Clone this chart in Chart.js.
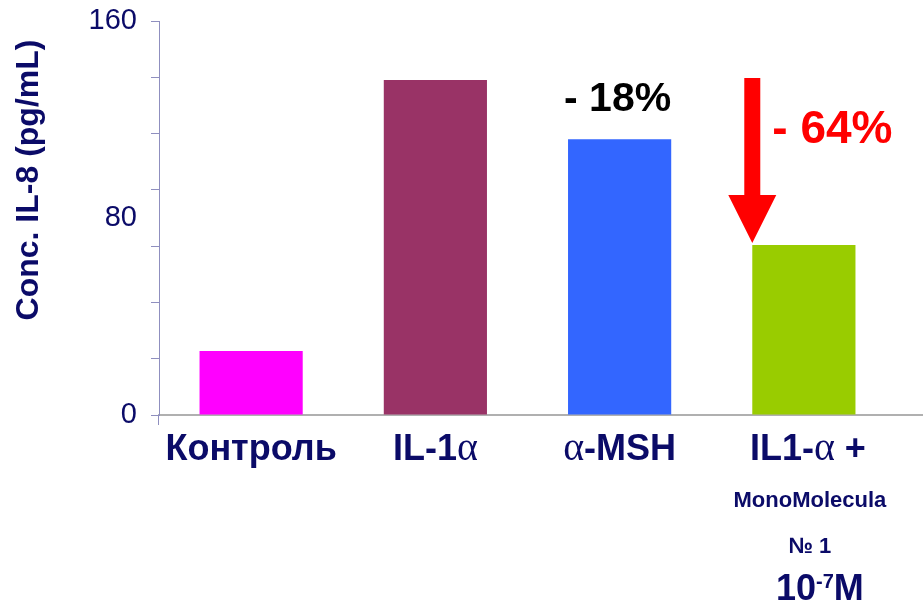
<!DOCTYPE html>
<html>
<head>
<meta charset="utf-8">
<script src="https://cdn.jsdelivr.net/npm/chart.js@4.4.1/dist/chart.umd.min.js"></script>
<style>
  html, body { margin: 0; padding: 0; background: #ffffff; }
  #wrap { width: 923px; height: 602px; position: relative; }
</style>
</head>
<body>
<div id="wrap"><canvas id="chart"></canvas></div>
<script>
// IL-8 concentration per treatment group
const categories = ['Контроль', 'IL-1α', 'α-MSH', ['IL1-α +', 'MonoMolecula', '№ 1', '10⁻⁷M']];
const il8Values = [26, 136, 112, 69];
const barColors = ['#ff00ff', '#993366', '#3366ff', '#99cc00'];
const changeLabels = ['', '', '- 18%', '- 64%'];
const yTickLabels = [0, 80, 160];
const yTitle = 'Conc. IL-8 (pg/mL)';
const yMax = 160;
const tickMarkCount = 7; // small tick marks split the axis in 7 equal steps

const NAVY = '#0b0b68';
const SANS = '"Liberation Sans", Arial, sans-serif';
const SERIF = '"Liberation Serif", "Times New Roman", serif';
const SUPERSCRIPTS = { '⁻': '-', '⁰': '0', '¹': '1', '²': '2', '³': '3', '⁴': '4', '⁵': '5', '⁶': '6', '⁷': '7', '⁸': '8', '⁹': '9' };

const tickValues = [];
for (let k = 0; k <= tickMarkCount; k++) tickValues.push(k * yMax / tickMarkCount);
yTickLabels.forEach(v => { if (!tickValues.includes(v)) tickValues.push(v); });
tickValues.sort((a, b) => a - b);

// split a label line into runs: Greek alpha in serif, superscripts small and raised
function runsOf(text, size) {
  const runs = [];
  for (const ch of text) {
    let font, t = ch, rise = 0;
    if (ch === 'α') {
      font = `${Math.round(size * 1.12)}px ${SERIF}`;
    } else if (SUPERSCRIPTS[ch]) {
      t = SUPERSCRIPTS[ch];
      font = `bold ${Math.round(size * 0.56)}px ${SANS}`;
      rise = size * 0.34;
    } else {
      font = `bold ${size}px ${SANS}`;
    }
    const last = runs[runs.length - 1];
    if (last && last.font === font && last.rise === rise) last.text += t;
    else runs.push({ text: t, font, rise });
  }
  return runs;
}

function drawRuns(ctx, runs, cx, baseline) {
  let total = 0;
  runs.forEach(r => { ctx.font = r.font; r.w = ctx.measureText(r.text).width; total += r.w; });
  let x = cx - total / 2;
  ctx.textAlign = 'left';
  ctx.textBaseline = 'alphabetic';
  runs.forEach(r => { ctx.font = r.font; ctx.fillText(r.text, x, baseline - r.rise); x += r.w; });
}

// line sizes, baselines (below the x axis) and small horizontal nudges for the category labels
const labelLineSizes = [36, 22, 22, 36];
const labelLineOffsets = [45, 92, 138, 185];
const labelLineShift = [4, 6, 6, 16];

const decorations = {
  id: 'decorations',
  afterDraw(chart) {
    const { ctx, chartArea } = chart;
    const xs = chart.scales.x;
    const ys = chart.scales.y;
    const bars = chart.getDatasetMeta(0).data;
    ctx.save();

    // axis line continues to the right edge, y axis dips below the x axis
    ctx.strokeStyle = '#b0b0b0';
    ctx.lineWidth = 2;
    ctx.beginPath();
    ctx.moveTo(chartArea.right, chartArea.bottom);
    ctx.lineTo(chart.width, chartArea.bottom);
    ctx.stroke();
    ctx.strokeStyle = '#8f8fbf';
    ctx.lineWidth = 1;
    ctx.beginPath();
    ctx.moveTo(chartArea.left - 0.5, chartArea.bottom);
    ctx.lineTo(chartArea.left - 0.5, chartArea.bottom + 10);
    ctx.stroke();

    // y axis title
    ctx.save();
    ctx.translate(29, 180);
    ctx.rotate(-Math.PI / 2);
    ctx.fillStyle = NAVY;
    ctx.font = `bold 32px ${SANS}`;
    ctx.textAlign = 'center';
    ctx.textBaseline = 'middle';
    ctx.fillText(yTitle, 0, 0);
    ctx.restore();

    // category labels
    ctx.fillStyle = NAVY;
    categories.forEach((cat, i) => {
      const lines = Array.isArray(cat) ? cat : [cat];
      const cx = xs.getPixelForValue(i);
      lines.forEach((line, j) => {
        const shift = lines.length > 1 ? labelLineShift[j] : 0;
        drawRuns(ctx, runsOf(line, labelLineSizes[j]), cx + shift, chartArea.bottom + labelLineOffsets[j]);
      });
    });

    // arrow from the IL-1α level down to the combined treatment bar
    const target = bars[3];
    const ax = target.x - target.width / 2;
    const yTop = ys.getPixelForValue(il8Values[1]) - 2;
    const yTip = target.y - 2;
    const headLen = 48, headHalf = 24, shaftHalf = 8;
    ctx.fillStyle = '#ff0000';
    ctx.beginPath();
    ctx.moveTo(ax - shaftHalf, yTop);
    ctx.lineTo(ax + shaftHalf, yTop);
    ctx.lineTo(ax + shaftHalf, yTip - headLen);
    ctx.lineTo(ax + headHalf, yTip - headLen);
    ctx.lineTo(ax, yTip);
    ctx.lineTo(ax - headHalf, yTip - headLen);
    ctx.lineTo(ax - shaftHalf, yTip - headLen);
    ctx.closePath();
    ctx.fill();

    // change labels
    ctx.textBaseline = 'alphabetic';
    ctx.fillStyle = '#000000';
    ctx.font = `bold 41px ${SANS}`;
    ctx.textAlign = 'center';
    ctx.fillText(changeLabels[2], bars[2].x - 2, bars[2].y - 28);
    ctx.fillStyle = '#ff0000';
    ctx.font = `bold 46px ${SANS}`;
    ctx.textAlign = 'left';
    ctx.fillText(changeLabels[3], ax + 20, yTop + 65);

    ctx.restore();
  }
};

new Chart(document.getElementById('chart'), {
  type: 'bar',
  data: {
    labels: categories,
    datasets: [{
      data: il8Values,
      backgroundColor: barColors,
      borderWidth: 0,
      barPercentage: 0.56,
      categoryPercentage: 1
    }]
  },
  options: {
    responsive: true,
    maintainAspectRatio: false,
    animation: false,
    layout: { padding: { top: 21, right: 27, left: 0, bottom: 0 } },
    plugins: { legend: { display: false }, tooltip: { enabled: false } },
    scales: {
      x: {
        offset: true,
        grid: { display: false },
        border: { display: true, color: '#b0b0b0', width: 2 },
        ticks: { display: false },
        afterFit: s => { s.height = 187; s.paddingLeft = 0; s.paddingRight = 0; }
      },
      y: {
        min: 0,
        max: yMax,
        afterBuildTicks: s => { s.ticks = tickValues.map(v => ({ value: v })); },
        afterFit: s => { s.width = 159; s.paddingTop = 0; s.paddingBottom = 0; },
        grid: {
          drawOnChartArea: false,
          drawTicks: true,
          tickLength: 8,
          color: '#8f8fbf',
          tickColor: c => (c.tick && c.tick.value === 80) ? 'rgba(0,0,0,0)' : '#8f8fbf'
        },
        border: { display: true, color: '#8f8fbf', width: 1 },
        ticks: {
          autoSkip: false,
          padding: 14,
          color: NAVY,
          font: { size: 29, family: SANS },
          callback: v => yTickLabels.includes(v) ? String(v) : ''
        }
      }
    }
  },
  plugins: [decorations]
});
</script>
</body>
</html>
